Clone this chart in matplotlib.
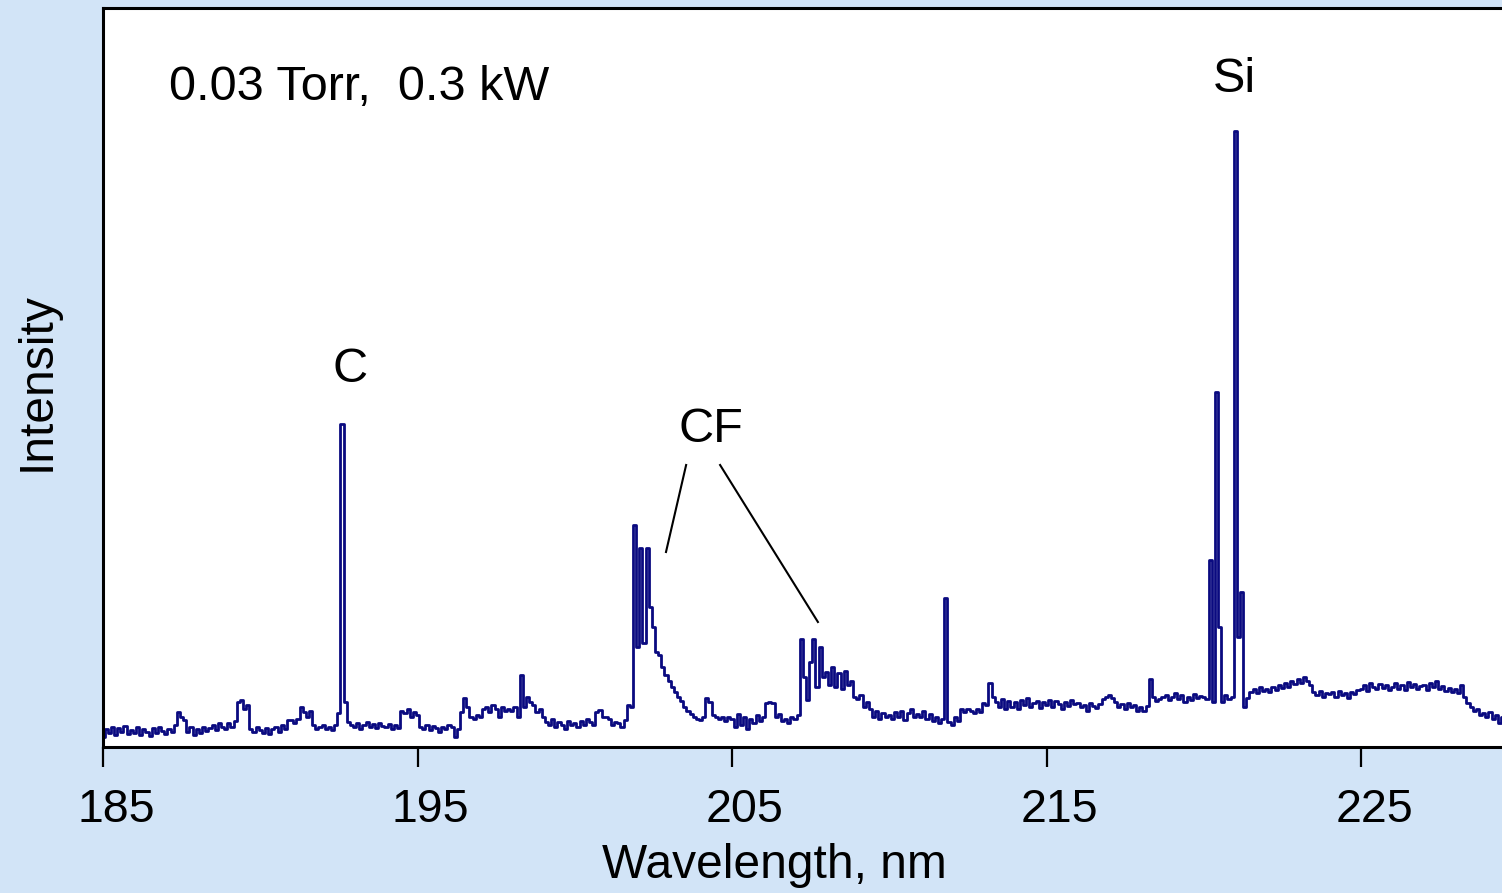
import numpy as np
import matplotlib
matplotlib.use("Agg")
import matplotlib.pyplot as plt
import matplotlib.transforms as mtransforms

plt.rcParams['font.family'] = ['Liberation Sans', 'DejaVu Sans']

# Emission spectrum, 0.1 nm steps starting at 185.0 nm
wl_start = 185.0
wl_step = 0.1
intensity = [
    # 185
    10, 18, 14, 20, 12, 19, 15, 21, 13, 17,
    # 186
    14, 20, 12, 18, 15, 11, 19, 14, 20, 16,
    # 187
    13, 18, 15, 22, 35, 30, 27, 15, 20, 12,
    # 188
    18, 14, 20, 16, 19, 22, 17, 24, 20, 18,
    # 189
    24, 20, 26, 45, 47, 38, 42, 18, 15, 20,
    # 190
    17, 14, 19, 13, 18, 20, 15, 22, 18, 27,
    # 191
    27, 24, 28, 40, 35, 30, 36, 22, 18, 20,
    # 192
    22, 18, 20, 17, 22, 34, 323, 45, 25, 22,
    # 193
    20, 24, 18, 22, 25, 20, 23, 19, 24, 21,
    # 194
    20, 23, 18, 22, 19, 36, 34, 38, 30, 35,
    # 195
    32, 20, 18, 22, 17, 21, 19, 15, 20, 18,
    # 196
    22, 20, 10, 18, 35, 49, 40, 30, 28, 32,
    # 197
    30, 38, 40, 35, 42, 38, 30, 40, 36, 38,
    # 198
    36, 40, 30, 72, 40, 50, 45, 42, 35, 38,
    # 199
    30, 25, 22, 28, 20, 25, 22, 18, 26, 22,
    # 200
    24, 20, 26, 22, 28, 25, 22, 35, 37, 30,
    # 201
    30, 28, 22, 25, 24, 20, 27, 42, 40, 222,
    # 202
    100, 199, 104, 199, 140, 120, 95, 92, 80, 72,
    # 203
    66, 60, 55, 50, 46, 40, 36, 33, 30, 28,
    # 204
    27, 30, 49, 45, 32, 30, 28, 30, 26, 30,
    # 205
    28, 20, 33, 22, 30, 18, 28, 24, 32, 26,
    # 206
    30, 44, 45, 44, 30, 33, 26, 28, 24, 30,
    # 207
    28, 32, 108, 70, 47, 85, 108, 60, 100, 70,
    # 208
    75, 62, 80, 60, 74, 58, 76, 62, 66, 50,
    # 209
    48, 52, 40, 45, 38, 30, 36, 28, 34, 30,
    # 210
    32, 28, 35, 30, 36, 27, 34, 38, 30, 33,
    # 211
    30, 36, 28, 33, 26, 30, 24, 28, 149, 25,
    # 212
    22, 30, 26, 38, 35, 38, 36, 34, 38, 35,
    # 213
    44, 42, 64, 50, 45, 40, 48, 38, 46, 40,
    # 214
    45, 38, 47, 42, 49, 40, 44, 46, 39, 45,
    # 215
    42, 47, 40, 46, 43, 38, 45, 41, 47, 43,
    # 216
    44, 40, 42, 36, 44, 41, 39, 43, 48, 50,
    # 217
    52, 49, 45, 40, 43, 38, 44, 40, 42, 36,
    # 218
    40, 36, 41, 68, 50, 46, 48, 50, 52, 47,
    # 219
    50, 54, 48, 52, 45, 50, 47, 53, 49, 51,
    # 220
    50, 48, 187, 45, 355, 120, 45, 52, 48, 50,
    # 221
    616, 110, 155, 40, 49, 55, 58, 54, 60, 56,
    # 222
    58, 55, 60, 57, 62, 59, 64, 60, 66, 63,
    # 223
    68, 64, 70, 66, 62, 55, 52, 56, 50, 54,
    # 224
    53, 55, 50, 56, 52, 54, 49, 55, 53, 57,
    # 225
    58, 62, 56, 64, 60, 58, 63, 59, 62, 57,
    # 226
    60, 64, 58, 62, 57, 65, 60, 63, 58, 61,
    # 227
    62, 57, 64, 60, 66, 58, 61, 56, 59, 55,
    # 228
    58, 54, 62, 50, 44, 40, 36, 38, 32, 34,
    # 229
    30, 35, 28, 32, 24, 30,
]
wavelength = wl_start + wl_step * np.arange(len(intensity))

xticks = [185, 195, 205, 215, 225]

fig = plt.figure(figsize=(15.02, 8.93), dpi=100)
fig.patch.set_facecolor('#d2e4f7')
ax = fig.add_axes([103 / 1502, 146 / 893, 1 - 103 / 1502, 739 / 893])
ax.set_facecolor('white')

ax.plot(wavelength, intensity, color='#0a0a80', lw=2.0, drawstyle='steps-mid')

ax.set_xlim(185, 229.48)
ax.set_ylim(0, 739)
ax.set_yticks([])
ax.set_xticks(xticks)
ax.set_xticklabels([str(t) for t in xticks], fontsize=33.5)
ax.tick_params(axis='x', direction='out', length=14.5, width=1.6, pad=15)
for side in ['left', 'bottom', 'top']:
    ax.spines[side].set_linewidth(2.2)
ax.spines['right'].set_visible(False)

# tick labels sit slightly right of their ticks in the original
offset = mtransforms.ScaledTranslation(0.13, 0, fig.dpi_scale_trans)
for lab in ax.get_xticklabels():
    lab.set_transform(lab.get_transform() + offset)

# annotations
ax.text(187.1, 659, '0.03 Torr,  0.3 kW', fontsize=35, va='center', ha='left')
ax.text(192.85, 377, 'C', fontsize=35, va='center', ha='center')
ax.text(204.33, 317, 'CF', fontsize=35, va='center', ha='center')
ax.text(220.96, 667, 'Si', fontsize=35, va='center', ha='center')
ax.plot([203.54, 202.90], [282, 195], color='black', lw=1.5)
ax.plot([204.62, 207.73], [282, 125], color='black', lw=1.5)

fig.text(37 / 1502, 1 - 382 / 893, 'Intensity', rotation=90, fontsize=34.5,
         va='center', ha='center')
fig.text(774 / 1502, 1 - 866 / 893, 'Wavelength, nm', fontsize=34.5,
         va='center', ha='center')

fig.savefig('out.png', dpi=100, facecolor=fig.get_facecolor())
